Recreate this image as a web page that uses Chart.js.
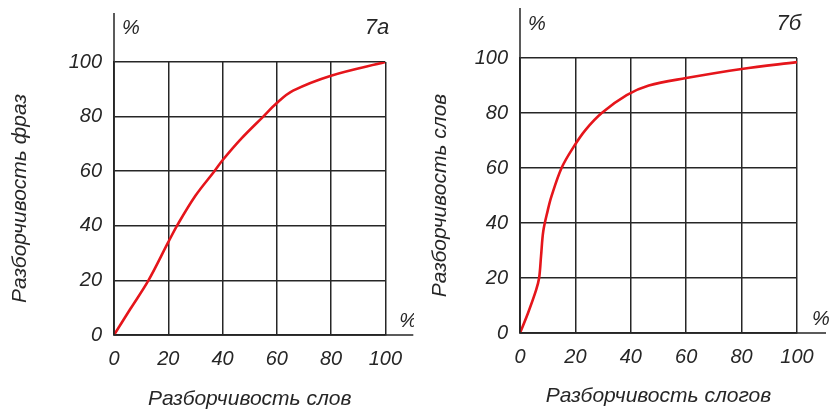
<!DOCTYPE html>
<html>
<head>
<meta charset="utf-8">
<script src="https://cdn.jsdelivr.net/npm/chart.js@4.4.1/dist/chart.umd.min.js"></script>
<style>
  body { margin: 0; background: #fff; }
  .box { position: absolute; top: 0; height: 412px; }
</style>
</head>
<body>
<div class="box" style="left:0;width:414px"><canvas id="chartA"></canvas></div>
<div class="box" style="left:414px;width:415px"><canvas id="chartB"></canvas></div>
<script>
// 7а: word intelligibility -> phrase intelligibility
const wordsX = [0, 6, 12.7, 20, 23.2, 30, 37, 40, 47, 55, 60, 66, 80, 100];
const phrasesY = [0, 9.5, 20, 34, 40, 51, 60, 64, 72, 80, 85, 89.5, 95, 100];

// 7б: syllable intelligibility -> word intelligibility
const syllablesX = [0, 2.9, 5.8, 6.9, 7.6, 8.4, 10, 11.3, 15, 19.3, 23.6, 29.5, 38.5, 46.5, 60, 80, 100];
const wordsY = [0, 7.3, 15.6, 20, 28, 37, 44.5, 49.5, 60, 67.6, 73.8, 80, 86.5, 90, 92.7, 96, 98.5];

const tickValues = [0, 20, 40, 60, 80, 100];

const INK = '#262626';
const FONT = 'Liberation Sans';

// extends the axes past the grid and writes the % signs and the panel name
const axisDecor = {
  id: 'axisDecor',
  afterDraw(chart, args, opts) {
    const ctx = chart.ctx;
    const x0 = chart.scales.x.getPixelForValue(0);
    const y0 = chart.scales.y.getPixelForValue(0);
    const x100 = chart.scales.x.getPixelForValue(100);
    const y100 = chart.scales.y.getPixelForValue(100);
    ctx.save();
    ctx.strokeStyle = INK;
    ctx.lineWidth = 1.5;
    ctx.beginPath();
    ctx.moveTo(x0, y0);
    ctx.lineTo(x0, y100 - opts.up);
    ctx.moveTo(x0, y0);
    ctx.lineTo(x100 + opts.right, y0);
    ctx.stroke();

    ctx.fillStyle = INK;
    ctx.font = 'italic 20px "' + FONT + '"';
    ctx.textBaseline = 'middle';
    ctx.textAlign = 'left';
    ctx.fillText('%', x0 + 8, y100 - 34);
    ctx.fillText('%', x100 + opts.right - 14, y0 - 14);
    ctx.textAlign = 'right';
    ctx.font = 'italic 22px "' + FONT + '"';
    ctx.fillText(opts.name, x100 + 4, y100 - 34);
    ctx.restore();
  }
};

function makeChart(id, xs, ys, cfg) {
  const points = xs.map((x, i) => ({ x: x, y: ys[i] }));
  const tickFont = { family: FONT, size: 20, style: 'italic' };
  const titleFont = { family: FONT, size: 21, style: 'italic' };
  return new Chart(document.getElementById(id), {
    type: 'line',
    data: {
      datasets: [{
        data: points,
        borderColor: '#e5151b',
        borderWidth: 2.6,
        pointRadius: 0,
        tension: 0.35,
        fill: false
      }]
    },
    options: {
      responsive: true,
      maintainAspectRatio: false,
      animation: false,
      layout: { padding: { top: cfg.top, right: cfg.right, left: 0, bottom: 0 } },
      plugins: {
        legend: { display: false },
        tooltip: { enabled: false },
        axisDecor: { up: cfg.up, right: cfg.extRight, name: cfg.name }
      },
      scales: {
        x: {
          type: 'linear',
          min: 0,
          max: 100,
          afterBuildTicks: (s) => { s.ticks = tickValues.map(v => ({ value: v })); },
          afterFit: (s) => { s.height = cfg.xHeight; },
          ticks: { color: INK, font: tickFont, padding: cfg.xTickPad, maxRotation: 0 },
          grid: { color: INK, lineWidth: 1.5, drawTicks: false },
          border: { color: INK, width: 1.5 },
          title: { display: true, text: cfg.xTitle, color: INK, font: titleFont, padding: { top: 0, bottom: cfg.xTitlePad } }
        },
        y: {
          type: 'linear',
          min: 0,
          max: 100,
          afterBuildTicks: (s) => { s.ticks = tickValues.map(v => ({ value: v })); },
          afterFit: (s) => { s.width = cfg.yWidth; },
          ticks: { color: INK, font: tickFont, padding: 12 },
          grid: { color: INK, lineWidth: 1.5, drawTicks: false },
          border: { color: INK, width: 1.5 },
          title: { display: true, text: cfg.yTitle, color: INK, font: titleFont, padding: { top: cfg.yTitlePad, bottom: 0 } }
        }
      }
    },
    plugins: [axisDecor]
  });
}

makeChart('chartA', wordsX, phrasesY, {
  top: 62, right: 24, xHeight: 77, yWidth: 114,
  xTickPad: 12, xTitlePad: 0, yTitlePad: 8, up: 49, extRight: 28,
  name: '7а', xTitle: 'Разборчивость слов', yTitle: 'Разборчивость фраз'
});

makeChart('chartB', syllablesX, wordsY, {
  top: 58, right: 32, xHeight: 79, yWidth: 106,
  xTickPad: 12, xTitlePad: 3, yTitlePad: 14, up: 50, extRight: 29,
  name: '7б', xTitle: 'Разборчивость слогов', yTitle: 'Разборчивость слов'
});
</script>
</body>
</html>
